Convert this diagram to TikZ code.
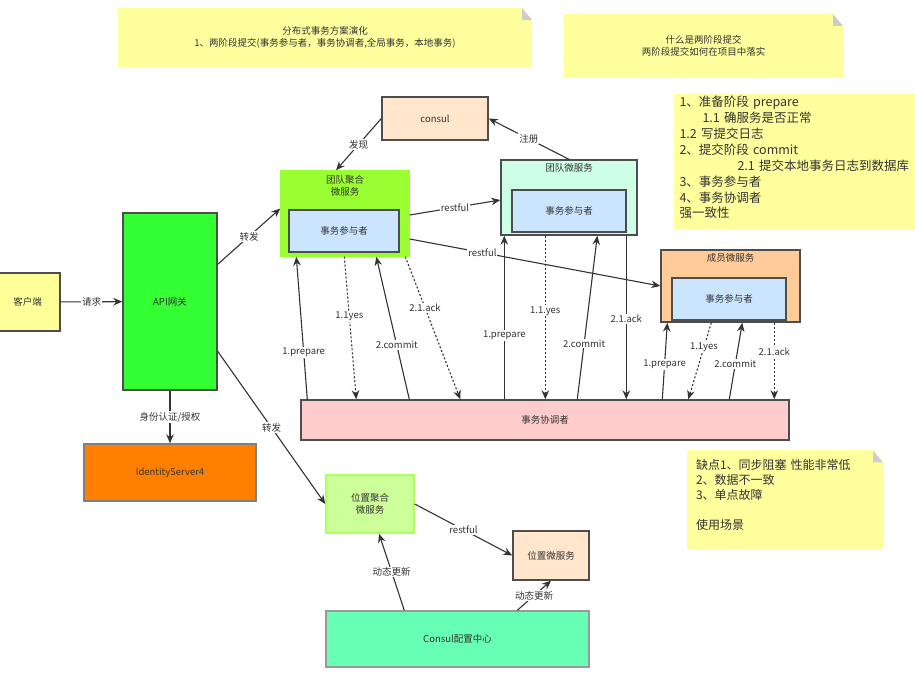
\documentclass[tikz,border=0pt]{standalone}
\usepackage{fontspec}
\setmainfont{Noto Sans CJK SC}
\usetikzlibrary{arrows.meta}
\definecolor{notey}{HTML}{FFFF9E}
\definecolor{foldgray}{HTML}{CDCDCD}
\definecolor{boxline}{HTML}{4D4D4D}
\definecolor{linegray}{HTML}{333333}
\definecolor{txt}{HTML}{333333}
\definecolor{peach}{HTML}{FFE6CC}
\definecolor{limegreen}{HTML}{99FF33}
\definecolor{partblue}{HTML}{CCE5FF}
\definecolor{mint}{HTML}{CCFFE6}
\definecolor{apricot}{HTML}{FFCC99}
\definecolor{clienty}{HTML}{FFFF99}
\definecolor{gwgreen}{HTML}{33FF33}
\definecolor{idorange}{HTML}{FF8000}
\definecolor{tcpink}{HTML}{FFCCCC}
\definecolor{paleg}{HTML}{CCFF99}
\definecolor{cfggreen}{HTML}{66FFB3}

\begin{document}
\begin{tikzpicture}[x=1pt,y=-1pt]
\tikzset{
  box/.style={rectangle,draw=boxline,line width=1.4pt,inner sep=2pt,align=center,
    text=txt,font=\fontsize{9.5}{12}\selectfont},
  notebox/.style={rectangle,fill=notey,inner sep=0pt,text=txt,
    path picture={
      \fill[white] (path picture bounding box.north east) -- ++(-10pt,0pt) -- ++(10pt,-12pt) -- cycle;
      \fill[foldgray] ([xshift=-10pt]path picture bounding box.north east) -- ++(0pt,-12pt) -- ++(10pt,0pt) -- cycle;
    }},
  title/.style={anchor=north,align=center,text=txt,font=\fontsize{9.5}{12}\selectfont},
  conn/.style={draw=linegray,line width=1.1pt,-{Stealth[length=9pt,width=7.5pt]}},
  dotconn/.style={conn,dash pattern=on 2pt off 2pt},
  lbl/.style={fill=white,inner sep=1pt,text=txt,font=\fontsize{9.5}{12}\selectfont}
}
\useasboundingbox (0,0) rectangle (915,674);

% notes
\node[notebox,align=center,minimum width=414,minimum height=59,font=\fontsize{9.5}{11.5}\selectfont] (n_note1) at (325,37.5)
  {分布式事务方案演化\\1、两阶段提交(事务参与者，事务协调者,全局事务，本地事务)};
\node[notebox,align=center,minimum width=279,minimum height=64,font=\fontsize{9.5}{11.5}\selectfont] (n_note2) at (703.5,46)
  {什么是两阶段提交\\两阶段提交如何在项目中落实};
\node[rectangle,fill=notey,text=txt,align=left,inner xsep=6pt,inner ysep=2pt,text width=231,minimum height=133,
  font=\fontsize{12.5}{15.9}\selectfont] (n_note3) at (795,161.5)
  {1、准备阶段 prepare\\
   \hspace*{23pt}1.1 确服务是否正常\\
   1.2 写提交日志\\
   2、提交阶段 commit\\
   \hspace*{58pt}2.1 提交本地事务日志到数据库\\
   3、事务参与者\\
   4、事务协调者\\
   强一致性\\[-7pt]\mbox{}};
\node[notebox,align=left,inner sep=9pt,text width=178,minimum height=91,font=\fontsize{12}{15}\selectfont] (n_note4) at (785,499.5)
  {缺点1、同步阻塞 性能非常低\\2、数据不一致\\3、单点故障\\[15pt]使用场景\\[-5pt]\mbox{}};

% services
\node[box,fill=clienty,minimum width=65,minimum height=58] (n_client) at (27.5,302) {客户端};
\node[box,fill=gwgreen,minimum width=94,minimum height=177] (n_api) at (170,301.5) {API网关};
\node[box,fill=idorange,draw=gray,minimum width=172,minimum height=57] (n_ids) at (170,472.5) {IdentityServer4};
\node[box,fill=peach,minimum width=106,minimum height=43] (n_consul) at (435,118.5) {consul};

\node[box,fill=limegreen,draw=limegreen,minimum width=128,minimum height=85,
  label={[title,yshift=-2pt]north:团队聚合\\微服务}] (n_g1) at (345,213.5) {};
\node[box,fill=partblue,minimum width=110,minimum height=42] (n_p1) at (344,231) {事务参与者};
\node[box,fill=mint,minimum width=136,minimum height=75,
  label={[title,yshift=-1pt]north:团队微服务}] (n_g2) at (569,197.5) {};
\node[box,fill=partblue,minimum width=114,minimum height=42] (n_p2) at (569,211) {事务参与者};
\node[box,fill=apricot,minimum width=139,minimum height=72,
  label={[title,yshift=-1pt]north:成员微服务}] (n_g3) at (730.5,286) {};
\node[box,fill=partblue,minimum width=114,minimum height=42] (n_p3) at (729,299) {事务参与者};

\node[box,fill=tcpink,minimum width=488,minimum height=40] (n_tc) at (545,420) {事务协调者};

\node[box,fill=paleg,draw=limegreen!80,minimum width=88,minimum height=58] (n_loc) at (370,504) {位置聚合\\微服务};
\node[box,fill=peach,minimum width=76,minimum height=49] (n_locsvc) at (551,555.5) {位置微服务};
\node[box,fill=cfggreen,draw=gray!80,minimum width=263,minimum height=56] (n_cfg) at (457.5,639) {Consul配置中心};

% gateway
\draw[conn] (n_client) -- node[lbl] {请求} (n_api);
\draw[conn] ([yshift=-52pt]n_api.north east) -- node[lbl] {转发} ([yshift=5pt]n_g1.west);
\draw[conn] ([yshift=-139pt]n_api.north east) -- node[lbl] {转发} (n_loc.west);
\draw[conn] (n_api.south) -- node[lbl] {身份认证/授权} (n_ids.north);

% consul
\draw[conn] (n_consul.west) -- node[lbl] {发现} ([xshift=-9pt]n_g1.north);
\draw[conn] (n_g2.north) -- node[lbl] {注册} (n_consul.east);
\draw[conn] ([yshift=-1.5pt]n_g1.east) -- node[lbl] {restful} ([yshift=-2.5pt]n_g2.west);
\draw[conn] ([yshift=-25.5pt]n_g1.east) -- node[lbl,pos=0.29] {restful} (n_g3.west);

% two phase commit
\draw[conn] ([xshift=7pt]n_tc.north west) -- node[lbl,pos=0.33] {1.prepare} ([xshift=16pt]n_g1.south west);
\draw[dotconn] ([xshift=64pt]n_g1.south west) -- node[lbl,pos=0.42] {1.1yes} ([xshift=56pt]n_tc.north west);
\draw[conn] ([xshift=109pt]n_tc.north west) -- node[lbl,pos=0.38] {2.commit} ([xshift=96pt]n_g1.south west);
\draw[dotconn] ([xshift=125pt]n_g1.south west) -- node[lbl,pos=0.36] {2.1.ack} ([xshift=160pt]n_tc.north west);

\draw[conn] ([xshift=204pt]n_tc.north west) -- node[lbl,pos=0.39] {1.prepare} ([xshift=4pt]n_g2.south west);
\draw[dotconn] ([xshift=45pt]n_g2.south west) -- node[lbl,pos=0.46] {1.1.yes} ([xshift=245pt]n_tc.north west);
\draw[conn] ([xshift=277pt]n_tc.north west) -- node[lbl,pos=0.34] {2.commit} ([xshift=97pt]n_g2.south west);
\draw[conn] ([xshift=126pt]n_g2.south west) -- node[lbl,pos=0.51] {2.1.ack} ([xshift=326pt]n_tc.north west);

\draw[conn] ([xshift=362pt]n_tc.north west) -- node[lbl,pos=0.46] {1.prepare} ([xshift=7pt]n_g3.south west);
\draw[dotconn] ([xshift=51pt]n_g3.south west) -- node[lbl,pos=0.32] {1.1yes} ([xshift=388pt]n_tc.north west);
\draw[conn] ([xshift=429pt]n_tc.north west) -- node[lbl,pos=0.46] {2.commit} ([xshift=82pt]n_g3.south west);
\draw[dotconn] ([xshift=114pt]n_g3.south west) -- node[lbl,pos=0.38] {2.1.ack} ([xshift=474pt]n_tc.north west);

% location
\draw[conn] (n_loc.east) -- node[lbl] {restful} (n_locsvc.west);
\draw[conn] ([xshift=79pt]n_cfg.north west) -- node[lbl] {动态更新} ([xshift=9pt]n_loc.south);
\draw[conn] ([xshift=192pt]n_cfg.north west) -- node[lbl] {动态更新} (n_locsvc.south);
\end{tikzpicture}
\end{document}
